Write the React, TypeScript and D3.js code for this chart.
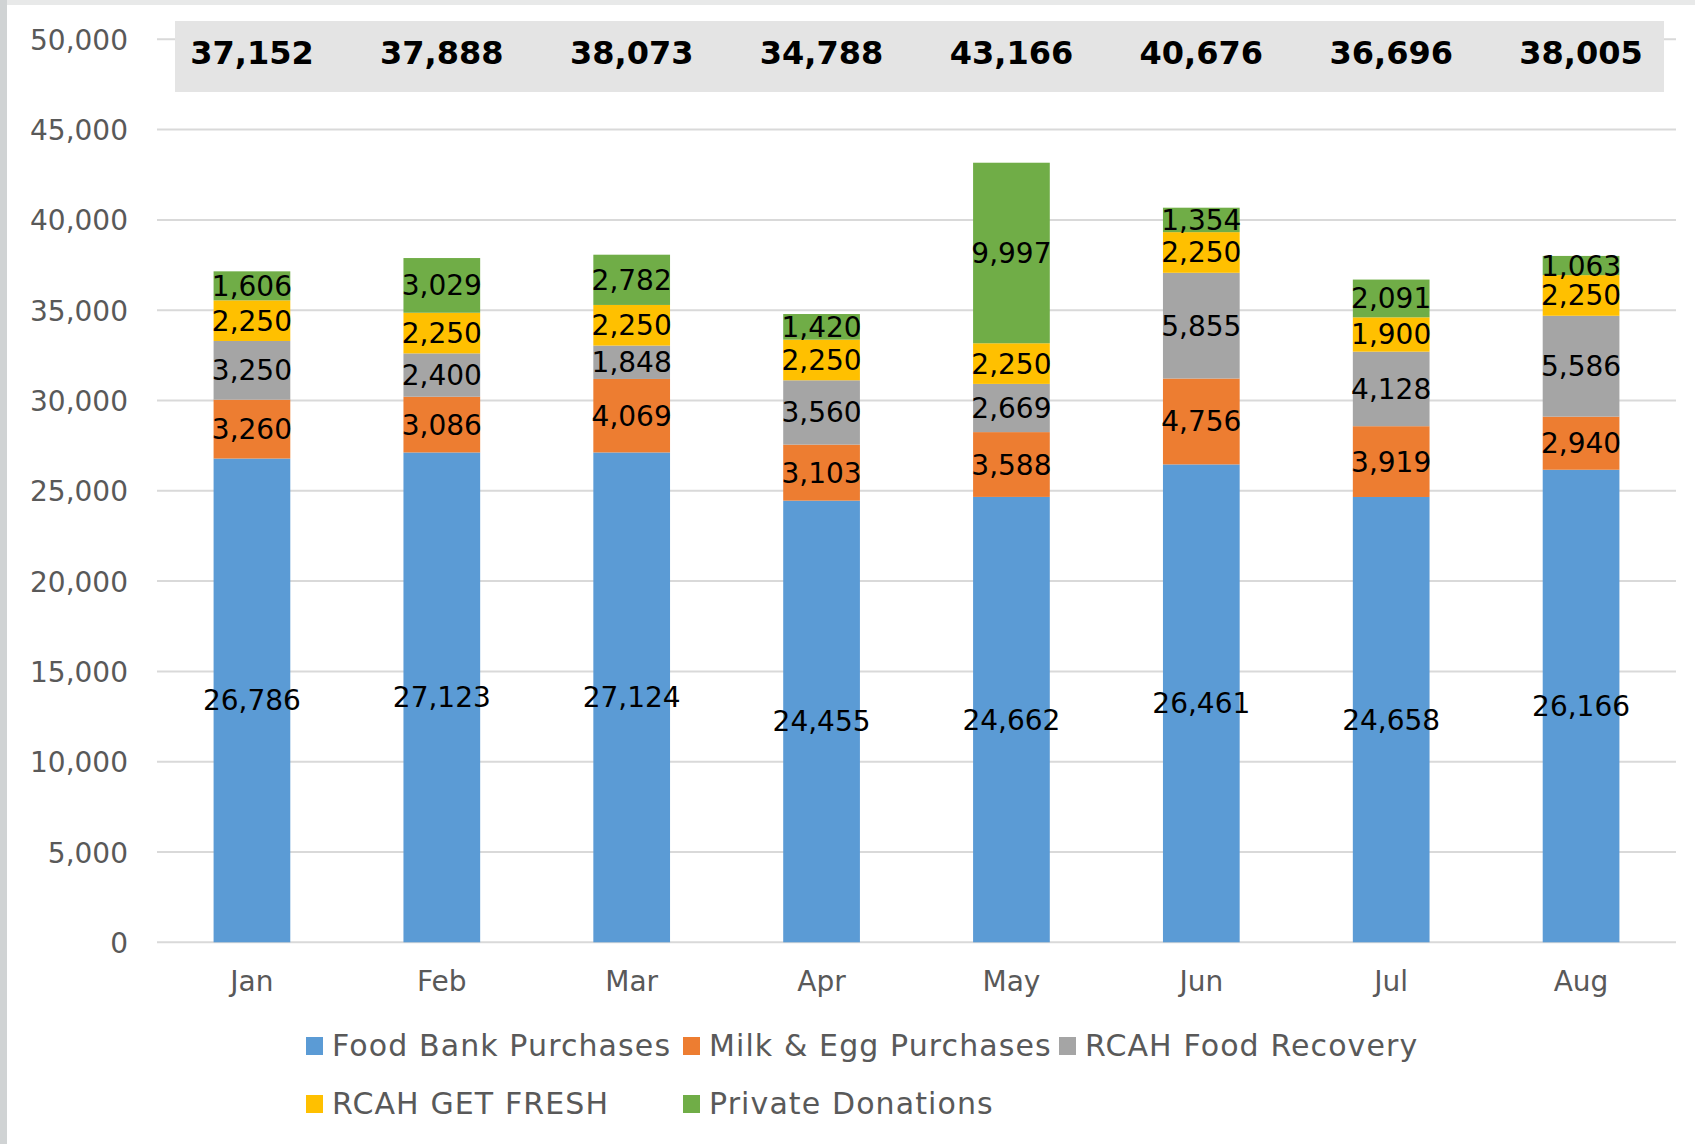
import React from 'react';
import * as d3 from 'd3';

const months = ['Jan', 'Feb', 'Mar', 'Apr', 'May', 'Jun', 'Jul', 'Aug'];
const seriesNames = ['Food Bank Purchases', 'Milk & Egg Purchases', 'RCAH Food Recovery', 'RCAH GET FRESH', 'Private Donations'];
const seriesColors = ['#5b9bd5', '#ed7d31', '#a5a5a5', '#ffc000', '#70ad47'];

const foodBank = [26786, 27123, 27124, 24455, 24662, 26461, 24658, 26166];
const milkEgg = [3260, 3086, 4069, 3103, 3588, 4756, 3919, 2940];
const foodRecovery = [3250, 2400, 1848, 3560, 2669, 5855, 4128, 5586];
const getFresh = [2250, 2250, 2250, 2250, 2250, 2250, 1900, 2250];
const privateDonations = [1606, 3029, 2782, 1420, 9997, 1354, 2091, 1063];
const totals = [37152, 37888, 38073, 34788, 43166, 40676, 36696, 38005];
const yTicks = [0, 5000, 10000, 15000, 20000, 25000, 30000, 35000, 40000, 45000, 50000];

const W = 1695;
const H = 1144;
const FONT = '"DejaVu Sans", Verdana, sans-serif';
const fmt = d3.format(',');

export default function App() {
  const x = d3.scaleBand<string>().domain(months).range([157, 1676]).paddingInner(0.596).paddingOuter(0.298);
  const y = d3.scaleLinear().domain([0, 50000]).range([942.3, 39.3]);

  const rows = months.map((m, i) => ({
    month: m,
    s0: foodBank[i], s1: milkEgg[i], s2: foodRecovery[i], s3: getFresh[i], s4: privateDonations[i],
  }));
  const keys = ['s0', 's1', 's2', 's3', 's4'];
  const stacked = d3.stack<any>().keys(keys)(rows);

  // legend is laid out in a 3-column grid, 2 rows
  const legendItems = [
    { i: 0, col: 0, row: 0 }, { i: 1, col: 1, row: 0 }, { i: 2, col: 2, row: 0 },
    { i: 3, col: 0, row: 1 }, { i: 4, col: 1, row: 1 },
  ];
  const legendCols = [306, 683, 1059];

  return (
    <svg width={W} height={H} style={{ position: 'absolute', left: 0, top: 0, background: '#fff' }} fontFamily={FONT}>
      <rect x={0} y={0} width={W} height={H} fill="#fff" />
      {/* frame edges from the screenshot */}
      <rect x={0} y={0} width={W} height={5} fill="#e8e9e9" />
      <rect x={0} y={0} width={7} height={H} fill="#d0d3d4" />

      {/* gridlines + y labels */}
      {yTicks.map(t => (
        <g key={t}>
          <line x1={157} x2={1676} y1={y(t)} y2={y(t)} stroke="#d9d9d9" strokeWidth={2} />
          <text x={128} y={y(t) + 10.5} textAnchor="end" fontSize={28} fill="#595959">{fmt(t)}</text>
        </g>
      ))}

      {/* totals band */}
      <rect x={175} y={21} width={1489} height={71} fill="#e4e4e4" />
      {totals.map((t, i) => (
        <text key={i} x={x(months[i])! + x.bandwidth() / 2} y={64} textAnchor="middle" fontSize={32} fontWeight="bold" fill="#000">
          {fmt(t)}
        </text>
      ))}

      {/* bars */}
      {stacked.map((layer, si) => (
        <g key={layer.key} fill={seriesColors[si]}>
          {layer.map((d, mi) => (
            <rect key={mi} x={x(months[mi])} y={y(d[1])} width={x.bandwidth()} height={y(d[0]) - y(d[1])} />
          ))}
        </g>
      ))}

      {/* data labels, centred in each segment */}
      {stacked.map((layer, si) => (
        <g key={'l' + layer.key}>
          {layer.map((d, mi) => (
            <text key={mi} x={x(months[mi])! + x.bandwidth() / 2} y={(y(d[0]) + y(d[1])) / 2 + 10}
              textAnchor="middle" fontSize={28} fill="#000">
              {fmt(d[1] - d[0])}
            </text>
          ))}
        </g>
      ))}

      {/* x labels */}
      {months.map(m => (
        <text key={m} x={x(m)! + x.bandwidth() / 2} y={991} textAnchor="middle" fontSize={28} fill="#595959">{m}</text>
      ))}

      {/* legend */}
      {legendItems.map(it => {
        const lx = legendCols[it.col];
        const ly = 1037 + it.row * 58;
        return (
          <g key={it.i}>
            <rect x={lx} y={ly} width={17} height={18} fill={seriesColors[it.i]} />
            <text x={lx + 26} y={ly + 19} fontSize={30} letterSpacing={1.1} fill="#595959">{seriesNames[it.i]}</text>
          </g>
        );
      })}
    </svg>
  );
}
